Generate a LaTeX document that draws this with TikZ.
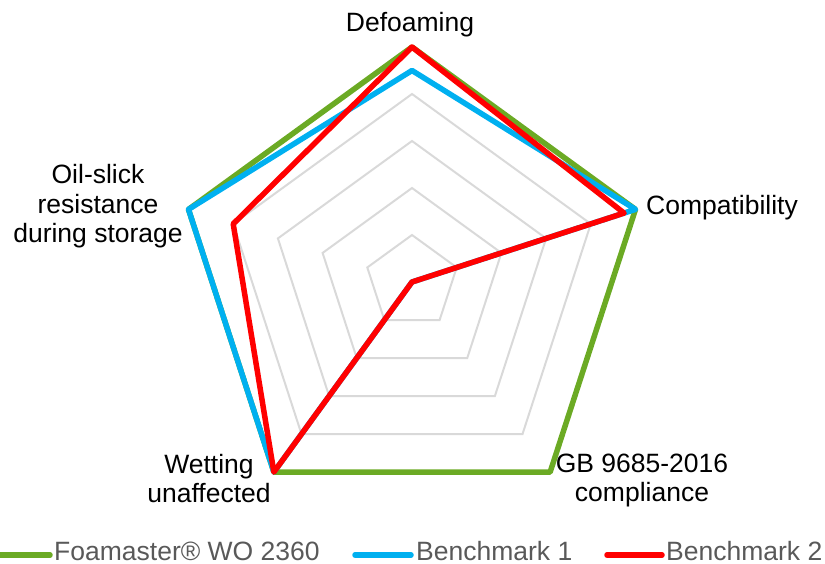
\documentclass[tikz,border=0pt]{standalone}
\usepackage{fontspec}
\setmainfont{Liberation Sans}
\usetikzlibrary{calc}
\definecolor{cgreen}{RGB}{107,170,36}
\definecolor{cblue}{RGB}{0,176,240}
\definecolor{cred}{RGB}{255,0,0}
\definecolor{cgrid}{RGB}{217,217,217}
\definecolor{clegend}{RGB}{89,89,89}
\tikzset{
  gridring/.style={draw=cgrid, line width=2pt, line join=miter},
  series/.style={line width=5.5pt, line join=round, line cap=round},
  axlabel/.style={font=\fontsize{26.5pt}{29.5pt}\selectfont, text=black, inner sep=0pt, align=center},
  legtext/.style={font=\fontsize{26.5pt}{30pt}\selectfont, text=clegend, inner sep=0pt, anchor=base west},
  legline/.style={line width=5.5pt, line cap=round}
}
\begin{document}
\begin{tikzpicture}[x=1pt,y=1pt]
\useasboundingbox (0,0) rectangle (825,564);
\coordinate (c) at (412,282);
% grid rings
\foreach \r in {47,94,141,188,235}{
  \draw[gridring] ($(c)+(90:\r)$) -- ($(c)+(18:\r)$) -- ($(c)+(-54:\r)$) -- ($(c)+(-126:\r)$) -- ($(c)+(162:\r)$) -- cycle;
}
% series: values scaled by 47 per unit
\draw[series, draw=cgreen] ($(c)+(90:235)$) -- ($(c)+(18:235)$) -- ($(c)+(-54:235)$) -- ($(c)+(-126:235)$) -- ($(c)+(162:235)$) -- cycle;
\draw[series, draw=cblue] ($(c)+(90:211.5)$) -- ($(c)+(18:235)$) -- (c) -- ($(c)+(-126:235)$) -- ($(c)+(162:235)$) -- cycle;
\draw[series, draw=cred] ($(c)+(90:235)$) -- ($(c)+(18:223)$) -- (c) -- ($(c)+(-126:235)$) -- ($(c)+(162:188)$) -- cycle;
% axis labels (base anchor = last line's baseline)
\node[axlabel, anchor=base] (defo) at (410,532) {Defoaming};
\node[axlabel, anchor=base west] (compat) at (646,349) {Compatibility};
\node[axlabel, anchor=base] (gb) at (642,62) {GB 9685-2016\\compliance};
\node[axlabel, anchor=base] (wet) at (209,61) {Wetting\\unaffected};
\node[axlabel, anchor=base] (oil) at (98,321) {Oil-slick\\resistance\\during storage};
% legend
\coordinate (g1) at (0,9); \coordinate (g2) at (50,9);
\coordinate (b1) at (355,9); \coordinate (b2) at (411,9);
\coordinate (r1) at (607,9); \coordinate (r2) at (662,9);
\draw[legline, draw=cgreen] (g1) -- (g2);
\draw[legline, draw=cblue] (b1) -- (b2);
\draw[legline, draw=cred] (r1) -- (r2);
\node[legtext] (lg) at (54,3) {Foamaster® WO 2360};
\node[legtext] (lb) at (416,3) {Benchmark 1};
\node[legtext] (lr) at (666,3) {Benchmark 2};
\end{tikzpicture}
\end{document}
